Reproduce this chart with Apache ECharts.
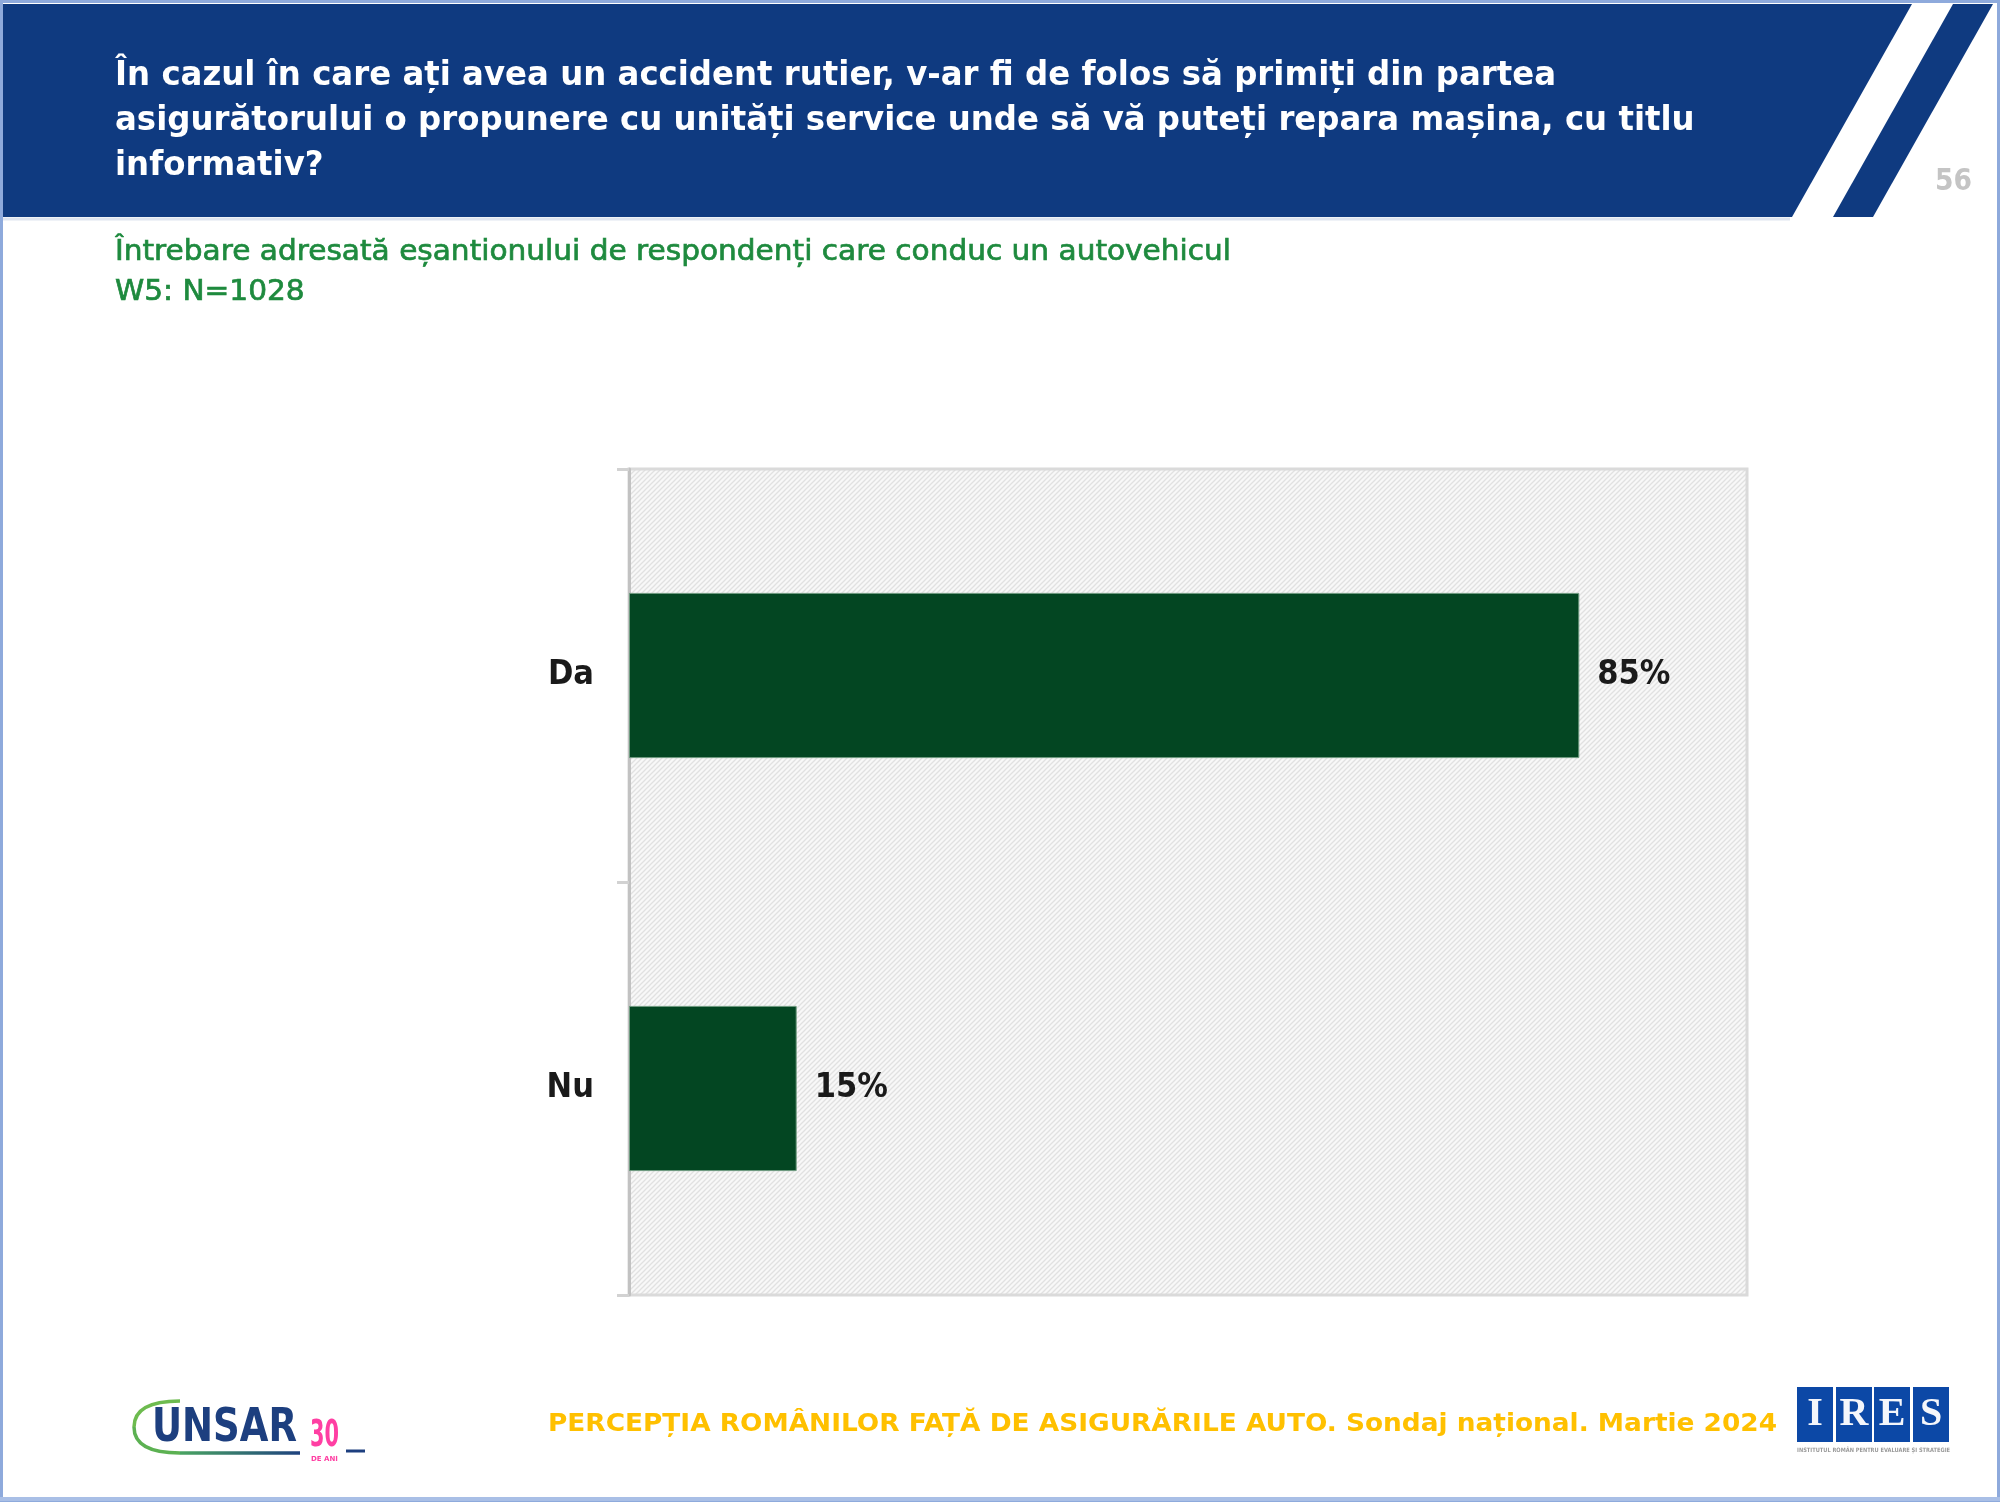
<!DOCTYPE html>
<html>
<head>
<meta charset="utf-8">
<script src="https://cdn.jsdelivr.net/npm/echarts@6.0.0/dist/echarts.min.js"></script>
<style>
html,body{margin:0;padding:0;background:#ffffff;}
#chart{width:2000px;height:1503px;}
</style>
</head>
<body>
<div id="chart"></div>
<script>
// ---------- data ----------
const categories = ['Da', 'Nu'];
const values = [85, 15];
const valueSuffix = '%';
const titleLines = [
  'În cazul în care ați avea un accident rutier, v-ar fi de folos să primiți din partea',
  'asigurătorului o propunere cu unități service unde să vă puteți repara mașina, cu titlu',
  'informativ?'
];
const subtitleLines = [
  'Întrebare adresată eșantionului de respondenți care conduc un autovehicul',
  'W5: N=1028'
];
const footerText = 'PERCEPȚIA ROMÂNILOR FAȚĂ DE ASIGURĂRILE AUTO. Sondaj național. Martie 2024';
const pageNumber = '56';
const logoLeftText = 'UNSAR';
const logoLeftBadge = '30';
const logoRightLetters = ['I', 'R', 'E', 'S'];

// ---------- helpers ----------
const mctx = document.createElement('canvas').getContext('2d');
function textW(font, s) { mctx.font = font; return mctx.measureText(s).width; }
function hasFont(name) {
  const s = 'mmmmmmmmmmlli1WW85%Da';
  return textW('bold 40px "' + name + '", monospace', s) !== textW('bold 40px monospace', s);
}
let labelFamily = '"DejaVu Sans", sans-serif', labelSize = 31;
if (hasFont('Liberation Sans Narrow')) { labelFamily = '"Liberation Sans Narrow", sans-serif'; labelSize = 40; }
else if (hasFont('DejaVu Sans Condensed')) { labelFamily = '"DejaVu Sans Condensed", sans-serif'; labelSize = 34; }

function txt(text, x, y, font, fill, scaleX, extra, styleExtra) {
  return Object.assign({
    type: 'text', x: x, y: y, scaleX: scaleX || 1,
    style: Object.assign({ text: text, font: font, fill: fill, align: 'left', verticalAlign: 'middle' }, styleExtra || {})
  }, extra || {});
}

// hatch pattern for plot background
const tile = document.createElement('canvas');
tile.width = 5; tile.height = 5;
const tc = tile.getContext('2d');
tc.fillStyle = '#f8f8f8'; tc.fillRect(0, 0, 5, 5);
tc.strokeStyle = '#e1e1e1'; tc.lineWidth = 1.3;
tc.beginPath();
tc.moveTo(-1, 6); tc.lineTo(6, -1);
tc.moveTo(-1, 1); tc.lineTo(1, -1);
tc.moveTo(4, 6); tc.lineTo(6, 4);
tc.stroke();

// ---------- text fitting ----------
const titleFont = 'bold 34px "DejaVu Sans"';
const titleScale = 1441 / textW(titleFont, titleLines[0]);
const subFont = '29px "DejaVu Sans"';
const subScale = 1116 / textW(subFont, subtitleLines[0]);
const footFont = 'bold 25px "DejaVu Sans"';
const footScale = 1229 / textW(footFont, footerText);
const pageFont = 'bold 30px "DejaVu Sans"';
const pageScale = 37 / textW(pageFont, pageNumber);
const unsarFont = 'bold 46px "DejaVu Sans"';
const unsarScale = 145 / textW(unsarFont, logoLeftText);
const badgeFont = 'bold 38px "DejaVu Sans"';
const badgeScale = 29 / textW(badgeFont, logoLeftBadge);

const graphics = [];
// slide frame
graphics.push({ type: 'rect', shape: { x: 1.5, y: 1.5, width: 1997, height: 1499 }, style: { fill: null, stroke: '#8eaadc', lineWidth: 3 }, z: 10 });
graphics.push({ type: 'line', shape: { x1: 0, y1: 1499, x2: 2000, y2: 1499 }, style: { stroke: '#a9bfe6', lineWidth: 4 }, z: 10 });
// header band
graphics.push({ type: 'polygon', shape: { points: [[3, 4], [1912, 4], [1792, 217], [3, 217]] }, style: { fill: '#0f3a80' } });
graphics.push({ type: 'polygon', shape: { points: [[1953, 4], [1993, 4], [1873, 217], [1833, 217]] }, style: { fill: '#0f3a80' } });
graphics.push({ type: 'line', shape: { x1: 3, y1: 219, x2: 1790, y2: 219 }, style: { stroke: '#dfe5f0', lineWidth: 3 } });
// title
const titleY = [76, 121, 166];
titleLines.forEach(function (l, i) { graphics.push(txt(l, 115, titleY[i], titleFont, '#ffffff', titleScale)); });
// page number
graphics.push(txt(pageNumber, 1935, 182, pageFont, '#c4c4c4', pageScale));
// subtitle
const subY = [252, 292];
subtitleLines.forEach(function (l, i) { graphics.push(txt(l, 115, subY[i], subFont, '#1e8a3e', subScale, null, { stroke: '#1e8a3e', lineWidth: 0.7 })); });
// footer
graphics.push(txt(footerText, 548, 1424, footFont, '#ffc000', footScale));

// UNSAR logo
graphics.push({ type: 'bezierCurve', shape: { x1: 180, y1: 1401, cpx1: 134, cpy1: 1401, x2: 134, y2: 1427 }, style: { fill: null, stroke: '#6dbb4f', lineWidth: 3.5 } });
graphics.push({ type: 'bezierCurve', shape: { x1: 134, y1: 1427, cpx1: 134, cpy1: 1453, x2: 180, y2: 1453 }, style: { fill: null, stroke: '#5cb152', lineWidth: 3.5 } });
graphics.push({ type: 'line', shape: { x1: 180, y1: 1453, x2: 300, y2: 1453 },
  style: { lineWidth: 3.5, stroke: { type: 'linear', x: 0, y: 0, x2: 1, y2: 0, colorStops: [{ offset: 0, color: '#4aa661' }, { offset: 1, color: '#1d3f7f' }] } } });
graphics.push(txt(logoLeftText, 152, 1429, unsarFont, '#1d3f7f', unsarScale));
graphics.push(txt(logoLeftBadge, 310, 1436, badgeFont, '#ff3fa3', badgeScale));
graphics.push(txt('DE ANI', 311, 1459, 'bold 7px "DejaVu Sans"', '#ff3fa3', 1));
graphics.push({ type: 'line', shape: { x1: 346, y1: 1451, x2: 365, y2: 1451 }, style: { stroke: '#1d3f7f', lineWidth: 3 } });

// IRES logo
const boxX = [1797, 1836, 1874, 1913];
logoRightLetters.forEach(function (ch, i) {
  graphics.push({ type: 'rect', shape: { x: boxX[i], y: 1387, width: 36, height: 55 }, style: { fill: '#0c48a6' } });
  graphics.push({ type: 'text', x: boxX[i] + 18, y: 1415, style: { text: ch, font: 'bold 40px "Liberation Serif", "DejaVu Serif", serif', fill: '#f4f6fb', align: 'center', verticalAlign: 'middle' } });
});
const iresSub = 'INSTITUTUL ROMÂN PENTRU EVALUARE ȘI STRATEGIE';
graphics.push(txt(iresSub, 1797, 1450, 'bold 6px "DejaVu Sans"', '#9a9a9a', 153 / textW('bold 6px "DejaVu Sans"', iresSub)));

// ---------- chart ----------
const chart = echarts.init(document.getElementById('chart'), null, { renderer: 'canvas' });
chart.setOption({
  backgroundColor: '#ffffff',
  animation: false,
  grid: {
    left: 629, right: 253, top: 469, bottom: 208,
    show: true,
    backgroundColor: { image: tile, repeat: 'repeat' },
    borderColor: '#dadada', borderWidth: 3
  },
  xAxis: { type: 'value', min: 0, max: 100, show: false },
  yAxis: {
    type: 'category', data: categories, inverse: true,
    axisLine: { show: true, lineStyle: { color: '#c2c2c2', width: 3 } },
    axisTick: { show: true, length: 12, lineStyle: { color: '#d2d2d2', width: 3 } },
    axisLabel: { margin: 35, fontSize: labelSize, fontWeight: 'bold', fontFamily: labelFamily, color: '#1a1a1a' },
    splitLine: { show: false }
  },
  series: [{
    type: 'bar', data: values, barWidth: '40%',
    itemStyle: { color: '#034622', borderColor: '#6e9a7f', borderWidth: 1 },
    label: {
      show: true, position: 'right', distance: 18,
      formatter: function (p) { return p.value + valueSuffix; },
      fontSize: labelSize, fontWeight: 'bold', fontFamily: labelFamily, color: '#1a1a1a'
    }
  }],
  graphic: { elements: graphics }
});
</script>
</body>
</html>
